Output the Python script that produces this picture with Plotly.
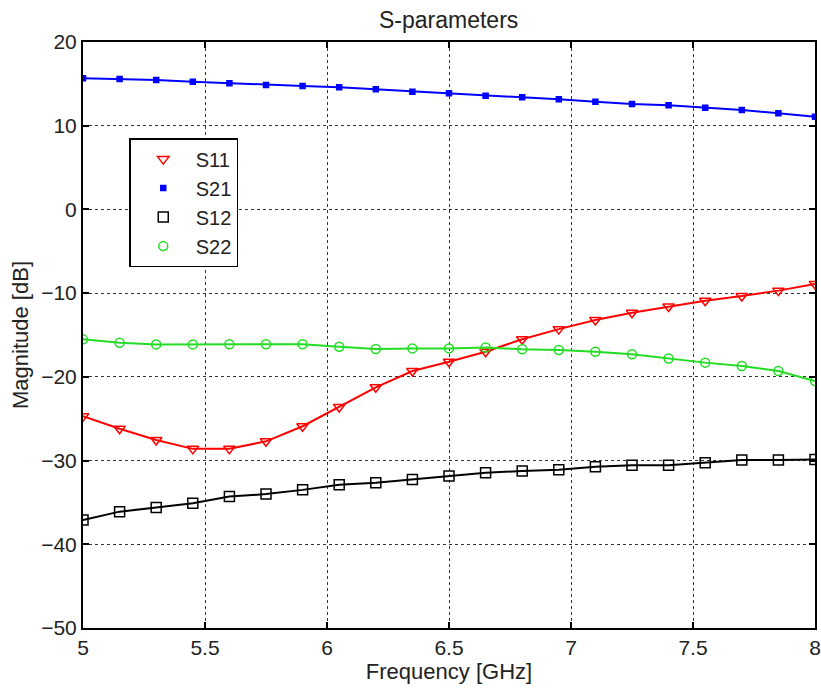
import plotly.graph_objects as go

freq = [5.0, 5.15, 5.3, 5.45, 5.6, 5.75, 5.9, 6.05, 6.2, 6.35, 6.5,
        6.65, 6.8, 6.95, 7.1, 7.25, 7.4, 7.55, 7.7, 7.85, 8.0]

s11 = [-24.7, -26.2, -27.55, -28.6, -28.6, -27.7, -25.9, -23.6, -21.25, -19.3, -18.2,
       -17.0, -15.5, -14.3, -13.2, -12.35, -11.6, -10.9, -10.35, -9.7, -8.9]
s21 = [15.66, 15.58, 15.46, 15.26, 15.06, 14.86, 14.74, 14.58, 14.35, 14.07, 13.87,
       13.59, 13.39, 13.15, 12.87, 12.59, 12.43, 12.15, 11.88, 11.48, 11.08]
s12 = [-37.1, -36.1, -35.6, -35.1, -34.3, -34.0, -33.5, -32.9, -32.65, -32.25, -31.85,
       -31.45, -31.25, -31.1, -30.74, -30.55, -30.55, -30.26, -29.94, -29.94, -29.86]
s22 = [-15.52, -15.92, -16.12, -16.12, -16.1, -16.1, -16.1, -16.4, -16.68, -16.6, -16.6,
       -16.5, -16.7, -16.8, -17.0, -17.3, -17.8, -18.3, -18.7, -19.3, -20.5]

names = ["S11", "S21", "S12", "S22"]
colors = ["#ff0000", "#0000ff", "#000000", "#22dd22"]
symbols = ["triangle-down-open", "square", "square-open", "circle-open"]
sizes = [10, 5, 10, 9]
series = [s11, s21, s12, s22]

FONT = "Liberation Sans, Arial, sans-serif"

fig = go.Figure()
for name, col, sym, sz, ys in zip(names, colors, symbols, sizes, series):
    fig.add_trace(go.Scatter(
        x=freq, y=ys, mode="lines+markers", name=name, showlegend=False,
        line=dict(color=col, width=2),
        marker=dict(symbol=sym, size=sz, color=col, line=dict(color=col, width=1.5)),
    ))
for name, col, sym, sz in zip(names, colors, symbols, sizes):
    fig.add_trace(go.Scatter(
        x=[None], y=[None], mode="markers", name=name, showlegend=True,
        marker=dict(symbol=sym, size=sz, color=col, line=dict(color=col, width=1.5)),
    ))

axis_common = dict(
    showline=True, linecolor="black", linewidth=2, mirror="ticks",
    ticks="inside", ticklen=6, tickcolor="black", tickwidth=1.5,
    showgrid=True, gridcolor="#333333", gridwidth=1, griddash="dot",
    zeroline=False, automargin=False,
    tickfont=dict(family=FONT, size=21, color="#222222"),
    title_font=dict(family=FONT, size=22, color="#222222"),
)

fig.update_xaxes(range=[5, 8], dtick=0.5, tick0=5,
                 title_text="Frequency [GHz]", title_standoff=2, **axis_common)
fig.update_yaxes(range=[-50, 20], dtick=10, tick0=0,
                 title_text="Magnitude [dB]", title_standoff=6, **axis_common)

fig.update_layout(
    width=821, height=688,
    margin=dict(l=83, r=6, t=42, b=60),
    paper_bgcolor="white", plot_bgcolor="white",
    title=dict(text="S-parameters", x=0.5465, xanchor="center", y=0.971, yanchor="middle",
               font=dict(family=FONT, size=23, color="#222222")),
    legend=dict(x=0.0632, y=0.836, xanchor="left", yanchor="top",
                bgcolor="white", bordercolor="black", borderwidth=1.5,
                font=dict(family=FONT, size=20, color="#222222"),
                itemwidth=55),
    showlegend=True,
)

fig.write_html("out.html", config={"displayModeBar": False},
               post_script="document.body.style.margin='0';document.body.style.overflow='hidden';")
